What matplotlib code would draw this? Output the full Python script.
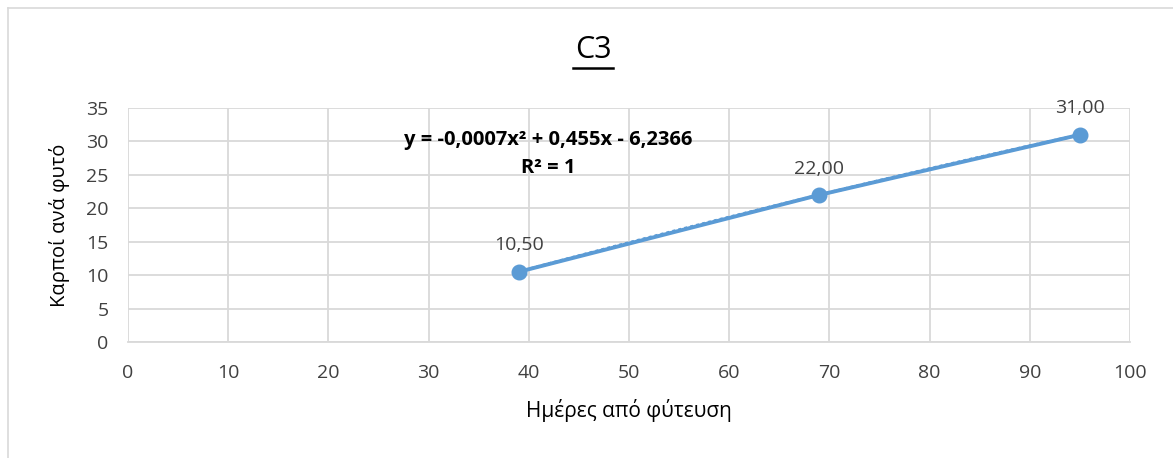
import numpy as np
from matplotlib import pyplot as plt
from matplotlib.lines import Line2D

plt.rcParams["font.family"] = ["Open Sans", "DejaVu Sans"]

# data
days = [39, 69, 95]
fruits = [10.5, 22.0, 31.0]
x_ticks = list(range(0, 101, 10))
y_ticks = list(range(0, 36, 5))

blue = "#5b9bd5"
grid_gray = "#d9d9d9"
text_gray = "#404040"

W, H = 1173, 458
fig = plt.figure(figsize=(W / 100, H / 100), dpi=100)
ax = fig.add_axes([128 / W, 1 - 342 / H, (1130 - 128) / W, (342 - 108) / H])

# series line with markers
ax.plot(days, fruits, color=blue, lw=2.8, marker="o", ms=10.5, zorder=3,
        solid_capstyle="round")

# quadratic trendline (dotted) over the same points
coeffs = np.polyfit(days, fruits, 2)
xs = np.linspace(min(days), max(days), 200)
ax.plot(xs, np.polyval(coeffs, xs), color=blue, lw=2.2, ls=(0, (1, 1)), zorder=4)

# data labels
for x, y in zip(days, fruits):
    ax.annotate(f"{y:.2f}".replace(".", ","), (x, y), xytext=(0, 19),
                textcoords="offset points", ha="center", va="center",
                fontsize=14, color=text_gray)

ax.set_xlim(0, 100)
ax.set_ylim(0, 35)
ax.set_xticks(x_ticks)
ax.set_yticks(y_ticks)
ax.grid(True, color=grid_gray, lw=1.3)
ax.set_axisbelow(True)
for side in ["top", "right", "left"]:
    ax.spines[side].set_visible(False)
ax.spines["bottom"].set_color(grid_gray)
ax.spines["bottom"].set_linewidth(1.3)
ax.tick_params(length=0, labelsize=14, colors=text_gray)
ax.tick_params(axis="x", pad=16)
ax.tick_params(axis="y", pad=14)

ax.set_xlabel("Ημέρες από φύτευση", fontsize=15, color="black")
ax.set_ylabel("Καρποί ανά φυτό", fontsize=14.5, color="black")
ax.xaxis.set_label_coords(0.5, -(410 - 342) / 234, transform=ax.transAxes)
ax.yaxis.set_label_coords(-(128 - 60) / 1002, 0.5, transform=ax.transAxes)
ax.xaxis.label.set_va("center")
ax.yaxis.label.set_va("center")

# trendline equation
a, b, c = coeffs
eq = f"y = {a:.4f}x² + {b:.3f}x - {abs(c):.4f}".replace(".", ",")
fig.text(548 / W, 1 - 140 / H, eq, ha="center", va="center",
         fontsize=14.5, fontweight="bold")
fig.text(548 / W, 1 - 168 / H, "R² = 1", ha="center", va="center",
         fontsize=14.5, fontweight="bold")

# title with underline
fig.text(593 / W, 1 - 50 / H, "C3", ha="center", va="center", fontsize=22)
fig.add_artist(Line2D([573 / W, 613 / W], [1 - 68 / H, 1 - 68 / H],
                      color="black", lw=1.8))

# chart border
fig.add_artist(Line2D([8 / W, 8 / W], [0, 1 - 8 / H], color=grid_gray, lw=1.2))
fig.add_artist(Line2D([8 / W, 1], [1 - 8 / H, 1 - 8 / H], color=grid_gray, lw=1.2))

fig.savefig("out.png", dpi=100)
